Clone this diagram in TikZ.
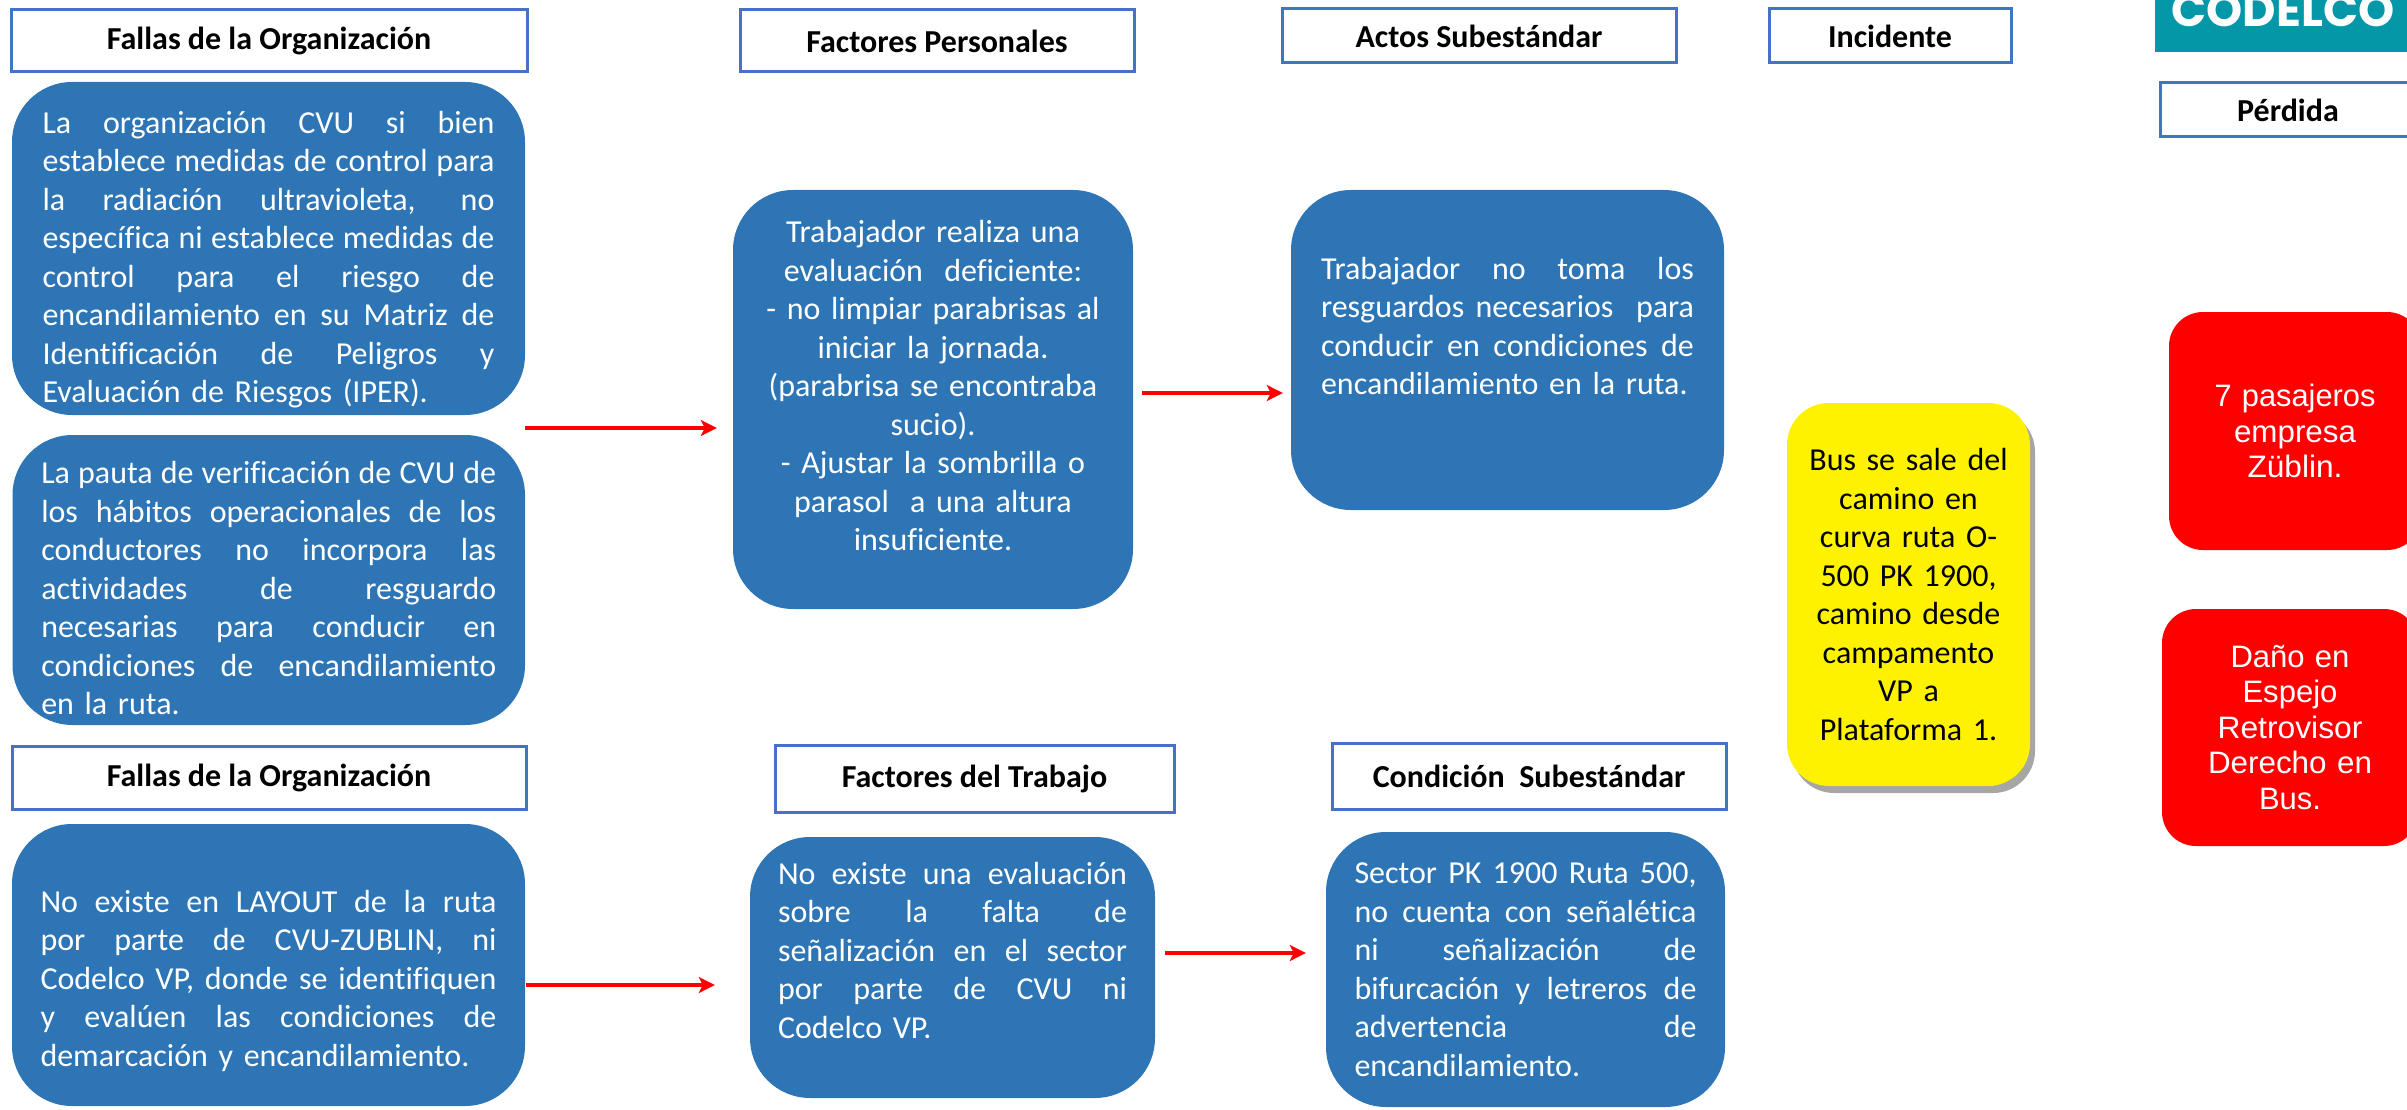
\documentclass[tikz,border=0pt]{standalone}
\usepackage{graphicx}
\usepackage{fontspec}
\setmainfont{Carlito}[Ligatures=CommonOff]
\newfontfamily\arialfont{Liberation Sans}
\newfontfamily\logofont{Poppins}
\usetikzlibrary{positioning, arrows.meta, shadows}
\definecolor{azulcaja}{HTML}{2E75B6}
\definecolor{bordecab}{HTML}{4472C4}
\definecolor{codelco}{RGB}{3,151,168}
\newcommand{\jl}[1]{\leavevmode\hbox to \hsize{\spaceskip=\fontdimen2\font plus 1fil\relax #1}}
\newcommand{\ancho}[2]{\resizebox{#1}{\height}{#2}}

\begin{document}
\begin{tikzpicture}[x=1pt, y=-1pt,
		cab/.style={draw=bordecab, line width=3pt, fill=white, rectangle, inner sep=0pt, font=\bfseries\fontsize{32}{38.5}\selectfont},
		caja/.style={fill=azulcaja, rectangle, rounded corners=60pt, inner sep=0pt, text=white, align=left, font=\fontsize{32}{38.5}\selectfont},
		centro/.style={caja, align=center},
		evento/.style={fill=yellow, rectangle, rounded corners=42pt, inner sep=0pt, align=center, font=\fontsize{32}{38.5}\selectfont,
			drop shadow={shadow xshift=5pt, shadow yshift=-7pt, opacity=.35, fill=black}},
		perdida/.style={fill=red, rectangle, rounded corners=34pt, inner sep=0pt, text=white, align=center, text width=240pt, font=\arialfont\fontsize{31}{35.5}\selectfont},
		flecha/.style={draw=red, line width=4.5pt, -{Stealth[length=16pt, width=16pt, inset=4pt]}}
		]
		\useasboundingbox (0,0) rectangle (2407,1110);

		% encabezados
		\node[cab, minimum width=516pt, minimum height=62pt] (cabOrgA) at (269,41) {Fallas de la Organización};
		\node[cab, minimum width=394pt, minimum height=62pt] (cabPers) at (937,41) {Factores Personales};
		\node[cab, minimum width=394pt, minimum height=54pt] (cabActo) at (1479,36) {Actos Subestándar};
		\node[cab, minimum width=242pt, minimum height=54pt] (cabInc) at (1890,36) {Incidente};
		\node[cab, minimum width=256pt, minimum height=54pt] (cabPerd) at (2288,110) {Pérdida};
		\node[cab, minimum width=514pt, minimum height=63pt] (cabOrgB) at (269,777.5) {Fallas de la Organización};
		\node[cab, minimum width=399pt, minimum height=67pt] (cabTrab) at (974.5,778.5) {Factores del Trabajo};
		\node[cab, minimum width=394pt, minimum height=66pt] (cabCond) at (1529,776) {Condición\ \ Subestándar};

		\node[fill=codelco, text=white, font=\logofont\bfseries\fontsize{46}{46}\selectfont, anchor=base,
			minimum width=256pt, text height=33pt, text depth=0pt, inner ysep=25pt] (logo) at (2283,27) {CODELCO};

		% cajas
		\node[caja, minimum width=513pt, minimum height=333pt, text width=452pt] (orgA) at (268.5,248.5) {%
			\jl{\rule{0pt}{45pt}La organización CVU si bien}\\
			\jl{establece medidas de control para}\\
			\jl{la radiación ultravioleta, no}\\
			\jl{específica ni establece medidas de}\\
			\jl{control para el riesgo de}\\
			\jl{encandilamiento en su Matriz de}\\
			\jl{Identificación de Peligros y}\\
			Evaluación de Riesgos (IPER).};
		\node[caja, minimum width=512.5pt, minimum height=290pt, text width=455pt] (orgB) at (268.75,580) {%
			\jl{\rule{0pt}{39pt}La pauta de verificación de CVU de}\\
			\jl{los hábitos operacionales de los}\\
			\jl{conductores no incorpora las}\\
			\jl{actividades de resguardo}\\
			\jl{necesarias para conducir en}\\
			\jl{condiciones de encandilamiento}\\
			en la ruta.};
		\node[caja, minimum width=513pt, minimum height=282pt, text width=456pt] (orgC) at (268.5,965) {%
			\jl{\rule{0pt}{54pt}No existe en LAYOUT de la ruta}\\
			\jl{por parte de CVU-ZUBLIN, ni}\\
			\jl{Codelco VP, donde se identifiquen}\\
			\jl{y evalúen las condiciones de}\\
			demarcación y encandilamiento.};
		\node[centro, minimum width=400pt, minimum height=419pt, text width=380pt] (pers) at (933,399.5) {%
			Trabajador realiza una\\
			evaluación\ \ deficiente:\\
			- no limpiar parabrisas al\\
			iniciar la jornada.\\
			(parabrisa se encontraba\\
			sucio).\\
			- Ajustar la sombrilla o\\
			parasol\ \ a una altura\\
			insuficiente.\rule[-28pt]{0pt}{28pt}};
		\node[caja, minimum width=433pt, minimum height=320pt, text width=373pt] (acto) at (1507.5,350) {%
			\jl{Trabajador no toma los}\\
			\jl{resguardos necesarios\ \ para}\\
			\jl{conducir en condiciones de}\\
			encandilamiento en la ruta.\rule[-48pt]{0pt}{48pt}};
		\node[caja, minimum width=405pt, minimum height=261pt, text width=349pt] (trab) at (952.5,967.5) {%
			\jl{No existe una evaluación}\\
			\jl{sobre la falta de}\\
			\jl{señalización en el sector}\\
			\jl{por parte de CVU ni}\\
			Codelco VP.\rule[-35pt]{0pt}{35pt}};
		\node[caja, minimum width=399pt, minimum height=275pt, text width=342pt] (cond) at (1525.5,969.5) {%
			\jl{Sector PK 1900 Ruta 500,}\\
			\jl{no cuenta con señalética}\\
			\jl{ni señalización de}\\
			\jl{bifurcación y letreros de}\\
			\jl{advertencia de}\\
			encandilamiento.};
		\node[evento, minimum width=243pt, minimum height=383pt, text width=230pt] (inc) at (1908.5,594.5) {%
			Bus se sale del\\ camino en\\ curva ruta O-\\ 500 PK 1900,\\ camino desde\\ campamento\\ VP a\\ Plataforma 1.};
		\node[perdida, minimum width=252pt, minimum height=238pt] (perA) at (2295,431) {%
			\ancho{161pt}{7 pasajeros}\\ \ancho{122pt}{empresa}\\ \ancho{95pt}{Züblin.}};
		\node[perdida, minimum width=256pt, minimum height=237pt] (perB) at (2290,727.5) {%
			\ancho{119pt}{Daño en}\\ \ancho{95pt}{Espejo}\\ \ancho{145pt}{Retrovisor}\\ \ancho{164pt}{Derecho en}\\ \ancho{62pt}{Bus.}};

		% flechas
		\coordinate (f1) at (525,428);
		\coordinate (f2) at (1142,393);
		\coordinate (f3) at (526,985);
		\coordinate (f4) at (1165,953);
		\draw[flecha, shorten >=16pt] (f1) -- (f1 -| pers.west);
		\draw[flecha, shorten >=8pt] (f2) -- (f2 -| acto.west);
		\draw[flecha, shorten >=35pt] (f3) -- (f3 -| trab.west);
		\draw[flecha, shorten >=20pt] (f4) -- (f4 -| cond.west);
	\end{tikzpicture}
\end{document}
